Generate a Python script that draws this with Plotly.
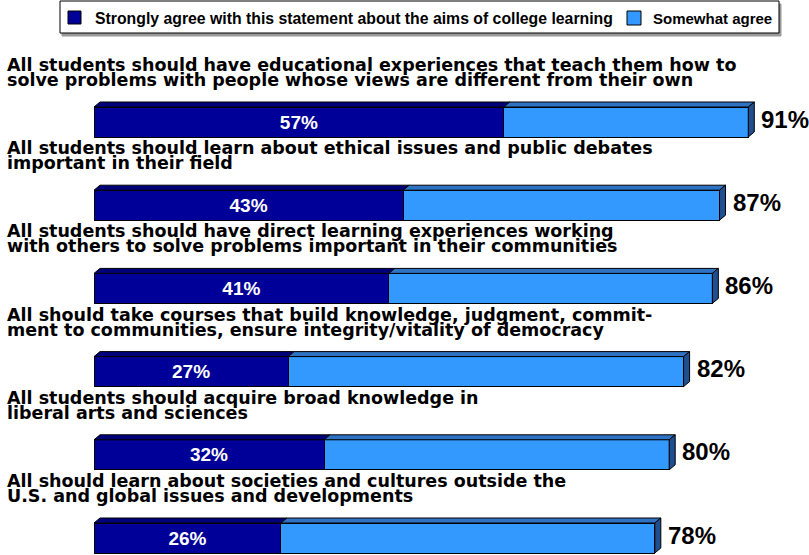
import plotly.graph_objects as go

# ---- data ----
label_line1 = [
    "All students should have educational experiences that teach them how to",
    "All students should learn about ethical issues and public debates",
    "All students should have direct learning experiences working",
    "All should take courses that build knowledge, judgment, commit-",
    "All students should acquire broad knowledge in",
    "All should learn about societies and cultures outside the",
]
label_line2 = [
    "solve problems with people whose views are different from their own",
    "important in their field",
    "with others to solve problems important in their communities",
    "ment to communities, ensure integrity/vitality of democracy",
    "liberal arts and sciences",
    "U.S. and global issues and developments",
]
strongly = [57, 43, 41, 27, 32, 26]
somewhat = [34, 44, 45, 55, 48, 52]
total = [91, 87, 86, 82, 80, 78]
series_names = ["Strongly agree with this statement about the aims of college learning",
                "Somewhat agree"]

# ---- style ----
W, H = 809, 555
X0_PX, X_SCALE = 94, 7.19          # pixel of x=0, pixels per percent
Y0_PX, Y_STEP = 122, 83.2          # pixel of first bar centre, pixels per bar
BAR_W = 30 / Y_STEP
DX = 6 / X_SCALE
DY = 5 / Y_STEP
DARK, LIGHT = "#000099", "#3399FF"
DARK_TOP, LIGHT_TOP, SIDE = "#00007A", "#2E72C4", "#1F4F8F"
FONT = "Liberation Sans, Arial, sans-serif"
LABEL_FONT = "DejaVu Sans, Verdana, sans-serif"

ypos = list(range(len(strongly)))

fig = go.Figure()
fig.add_trace(go.Bar(
    y=ypos, x=strongly, orientation="h", width=BAR_W, name=series_names[0],
    marker=dict(color=DARK, line=dict(color="black", width=1)),
    text=[f"<b>{v}%</b>" for v in strongly], textposition="inside",
    insidetextanchor="middle", textfont=dict(color="white", size=19, family=FONT),
    showlegend=False,
))
fig.add_trace(go.Bar(
    y=ypos, x=somewhat, orientation="h", width=BAR_W, name=series_names[1],
    marker=dict(color=LIGHT, line=dict(color="black", width=1)),
    showlegend=False,
))


def faces(starts, ends, color, side=False):
    xs, ys = [], []
    for i, (a, b) in enumerate(zip(starts, ends)):
        top = i - BAR_W / 2
        bot = i + BAR_W / 2
        if side:
            xs += [b, b + DX, b + DX, b, b, None]
            ys += [top, top - DY, bot - DY, bot, top, None]
        else:
            xs += [a, b, b + DX, a + DX, a, None]
            ys += [top, top, top - DY, top - DY, top, None]
    fig.add_trace(go.Scatter(x=xs, y=ys, mode="lines", fill="toself", fillcolor=color,
                             line=dict(color="black", width=1), hoverinfo="skip",
                             showlegend=False))


ends = [s + w for s, w in zip(strongly, somewhat)]
faces([0] * len(strongly), strongly, DARK_TOP)
faces(strongly, ends, LIGHT_TOP)
faces(strongly, ends, SIDE, side=True)

ann = []
for i in ypos:
    ann.append(dict(xref="paper", x=5 / W, yref="y", y=i, yshift=57, xanchor="left",
                    yanchor="middle", showarrow=False, text=f"<b>{label_line1[i]}</b>",
                    font=dict(size=17.5, family=LABEL_FONT, color="black")))
    ann.append(dict(xref="paper", x=5 / W, yref="y", y=i, yshift=42, xanchor="left",
                    yanchor="middle", showarrow=False, text=f"<b>{label_line2[i]}</b>",
                    font=dict(size=17.5, family=LABEL_FONT, color="black")))
    ann.append(dict(xref="x", x=total[i], yref="y", y=i, xshift=11, yshift=3,
                    xanchor="left", yanchor="middle", showarrow=False,
                    text=f"<b>{total[i]}%</b>",
                    font=dict(size=24, family=FONT, color="black")))


# manual legend
def px(x):
    return x / W


def py(y):
    return 1 - y / H


shapes = [
    dict(type="rect", xref="paper", yref="paper", x0=px(62), x1=px(781), y0=py(36), y1=py(4),
         line=dict(color="#999999", width=1), fillcolor="#999999", layer="below"),
    dict(type="rect", xref="paper", yref="paper", x0=px(60), x1=px(779), y0=py(33), y1=py(1),
         line=dict(color="black", width=1), fillcolor="white"),
    dict(type="rect", xref="paper", yref="paper", x0=px(68), x1=px(81), y0=py(24), y1=py(11),
         line=dict(color="black", width=1), fillcolor=DARK),
    dict(type="rect", xref="paper", yref="paper", x0=px(627), x1=px(641), y0=py(25), y1=py(11),
         line=dict(color="black", width=1), fillcolor=LIGHT),
]
ann.append(dict(xref="paper", x=px(93), yref="paper", y=py(18), xanchor="left", yanchor="middle",
                showarrow=False, text=f"<b>{series_names[0]}</b>",
                font=dict(size=15.8, family=FONT, color="black")))
ann.append(dict(xref="paper", x=px(651), yref="paper", y=py(18), xanchor="left", yanchor="middle",
                showarrow=False, text=f"<b>{series_names[1]}</b>",
                font=dict(size=15, family=FONT, color="black")))

fig.update_layout(
    width=W, height=H, margin=dict(l=0, r=0, t=0, b=0),
    barmode="stack", plot_bgcolor="white", paper_bgcolor="white",
    xaxis=dict(range=[-X0_PX / X_SCALE, (W - X0_PX) / X_SCALE], visible=False, fixedrange=True),
    yaxis=dict(range=[(H - Y0_PX) / Y_STEP, -Y0_PX / Y_STEP], visible=False, fixedrange=True),
    annotations=ann, shapes=shapes, showlegend=False,
)
fig.write_html("out.html", config={"displayModeBar": False},
               post_script="document.body.style.margin='0';document.body.style.overflow='hidden';")
